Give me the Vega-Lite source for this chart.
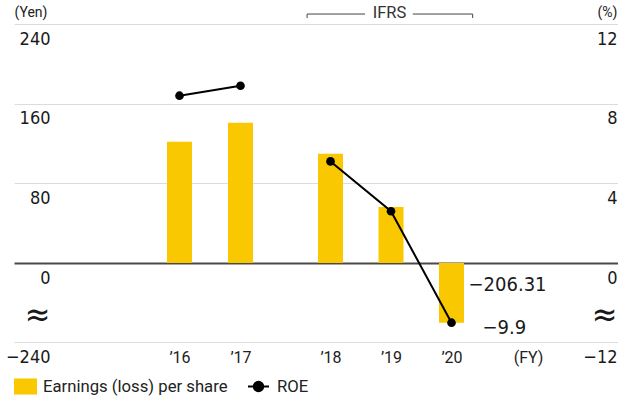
{
  "$schema": "https://vega.github.io/schema/vega-lite/v6.json",
  "width": 604,
  "height": 318,
  "autosize": {"type": "none"},
  "padding": {"left": 14, "top": 24, "right": 0, "bottom": 54},
  "background": "white",
  "config": {"view": {"stroke": null}, "font": "Roboto"},
  "datasets": {
    "fy": [
      {"year": 2016, "standard": "JGAAP", "eps": 121.8, "roe": 8.4},
      {"year": 2017, "standard": "JGAAP", "eps": 140.9, "roe": 8.9},
      {"year": 2018, "standard": "IFRS", "eps": 109.7, "roe": 5.1},
      {"year": 2019, "standard": "IFRS", "eps": 56.3, "roe": 2.6},
      {"year": 2020, "standard": "IFRS", "eps": -206.31, "roe": -9.9}
    ],
    "ifrs": [
      {"label": "IFRS", "start": 2017.74, "gapStart": 2018.57, "center": 2018.975, "gapEnd": 2019.36, "end": 2020.36}
    ]
  },
  "data": {"name": "fy"},
  "layer": [
    {
      "layer": [
        {
          "mark": {"type": "bar", "width": 25, "orient": "vertical"},
          "encoding": {
            "x": {
              "field": "year",
              "type": "quantitative",
              "scale": {"domain": [2013.29, 2016, 2017, 2018, 2020, 2022.75], "range": [0, 165.5, 226.5, 316.5, 437.5, 604], "nice": false, "zero": false},
              "axis": {
                "orient": "bottom",
                "title": null,
                "values": [2016, 2017, 2018, 2019, 2020, 2021.3],
                "format": "d",
                "labelExpr": "datum.value > 2020.5 ? '(FY)' : '\u2019' + substring(datum.label, 2)",
                "domain": false,
                "ticks": false,
                "grid": false,
                "labelPadding": 7,
                "labelFontSize": 16,
                "labelFont": "Roboto",
                "labelColor": "#222222",
                "labelFlush": false,
                "labelOverlap": false,
                "labelBaseline": "top"
              }
            },
            "y": {
              "field": "eps",
              "type": "quantitative",
              "scale": {"domain": [-240, -206.31, 0, 240], "range": [318, 298.7, 239, 0], "nice": false, "zero": false},
              "axis": {
                "orient": "left",
                "title": "(Yen)",
                "values": [-240, -130, 0, 80, 160, 240],
                "format": "d",
                "labelExpr": "datum.value == -130 ? '\u2248' : datum.label",
                "domain": false,
                "ticks": false,
                "labelPadding": -36,
                "labelAlign": "right",
                "labelBaseline": "middle",
                "labelOffset": 15,
                "labelFont": "DejaVu Sans Condensed, Liberation Sans, sans-serif",
                "labelFontSize": {"condition": {"test": "datum.value == -130", "value": 34}, "value": 18},
                "labelColor": "#1a1a1a",
                "labelFlush": false,
                "labelOverlap": false,
                "grid": true,
                "gridColor": {"condition": [{"test": "datum.value == 0", "value": "#4a4a4a"}, {"test": "datum.value == -130", "value": "rgba(0,0,0,0)"}], "value": "#dcdcdc"},
                "gridWidth": {"condition": {"test": "datum.value == 0", "value": 1.8}, "value": 1.2},
                "titleAngle": 0,
                "titleAlign": "left",
                "titleBaseline": "middle",
                "titleX": 0,
                "titleY": -12,
                "titleFont": "Roboto",
                "titleFontSize": 14,
                "titleFontWeight": "normal",
                "titleColor": "#222222"
              }
            },
            "y2": {"datum": 0},
            "fill": {
              "datum": "Earnings (loss) per share",
              "scale": {"range": ["#FAC800"]},
              "legend": {
                "orient": "none",
                "legendX": 0,
                "legendY": 351,
                "title": null,
                "padding": 0,
                "symbolType": "M-1,-0.7H1V0.7H-1Z",
                "symbolSize": 529,
                "symbolStrokeWidth": 0,
                "labelFont": "Roboto",
                "labelFontSize": 16.7,
                "labelLimit": 400,
                "labelColor": "#222222",
                "labelOffset": 6
              }
            }
          }
        },
        {
          "transform": [{"filter": "datum.year == 2020"}],
          "mark": {"type": "text", "align": "left", "baseline": "middle", "dx": 17, "dy": -38, "fontSize": 20, "font": "DejaVu Sans Condensed, Liberation Sans, sans-serif", "color": "#1a1a1a"},
          "encoding": {
            "x": {"field": "year", "type": "quantitative"},
            "y": {"field": "eps", "type": "quantitative"},
            "text": {"field": "eps", "type": "quantitative", "format": ".2f"}
          }
        },
        {
          "data": {"name": "ifrs"},
          "mark": {"type": "rule", "color": "#444444", "strokeWidth": 1},
          "encoding": {
            "x": {"field": "start", "type": "quantitative"},
            "x2": {"field": "gapStart"},
            "y": {"datum": 250, "type": "quantitative"}
          }
        },
        {
          "data": {"name": "ifrs"},
          "mark": {"type": "rule", "color": "#444444", "strokeWidth": 1},
          "encoding": {
            "x": {"field": "gapEnd", "type": "quantitative"},
            "x2": {"field": "end"},
            "y": {"datum": 250, "type": "quantitative"}
          }
        },
        {
          "data": {"name": "ifrs"},
          "mark": {"type": "rule", "color": "#444444", "strokeWidth": 1},
          "encoding": {
            "x": {"field": "start", "type": "quantitative"},
            "y": {"datum": 250, "type": "quantitative"},
            "y2": {"datum": 246}
          }
        },
        {
          "data": {"name": "ifrs"},
          "mark": {"type": "rule", "color": "#444444", "strokeWidth": 1},
          "encoding": {
            "x": {"field": "end", "type": "quantitative"},
            "y": {"datum": 250, "type": "quantitative"},
            "y2": {"datum": 246}
          }
        },
        {
          "data": {"name": "ifrs"},
          "mark": {"type": "text", "align": "center", "baseline": "middle", "dy": -1, "fontSize": 16.5, "font": "Roboto", "color": "#333333"},
          "encoding": {
            "x": {"field": "center", "type": "quantitative"},
            "y": {"datum": 250, "type": "quantitative"},
            "text": {"field": "label"}
          }
        }
      ]
    },
    {
      "layer": [
        {
          "mark": {"type": "line", "strokeWidth": 2},
          "encoding": {
            "x": {"field": "year", "type": "quantitative"},
            "y": {
              "field": "roe",
              "type": "quantitative",
              "scale": {"domain": [-12, -9.9, 0, 12], "range": [318, 298.7, 239, 0], "nice": false, "zero": false},
              "axis": {
                "orient": "right",
                "title": "(%)",
                "values": [-12, -6.2, 0, 4, 8, 12],
                "format": "d",
                "labelExpr": "datum.value == -6.2 ? '\u2248' : datum.label",
                "domain": false,
                "ticks": false,
                "grid": false,
                "labelPadding": -1,
                "labelAlign": "right",
                "labelBaseline": "middle",
                "labelOffset": 15,
                "labelFont": "DejaVu Sans Condensed, Liberation Sans, sans-serif",
                "labelFontSize": {"condition": {"test": "datum.value == -6.2", "value": 34}, "value": 18},
                "labelColor": "#1a1a1a",
                "labelFlush": false,
                "labelOverlap": false,
                "titleAngle": 0,
                "titleAlign": "right",
                "titleBaseline": "middle",
                "titleX": -1,
                "titleY": -12,
                "titleFont": "Roboto",
                "titleFontSize": 14,
                "titleFontWeight": "normal",
                "titleColor": "#222222"
              }
            },
            "detail": {"field": "standard", "type": "nominal"},
            "stroke": {
              "datum": "ROE",
              "scale": {"range": ["#000000"]},
              "legend": {
                "orient": "none",
                "legendX": 233,
                "legendY": 351,
                "title": null,
                "padding": 0,
                "symbolType": "M-1,0H1M0.45,0A0.45,0.45,0,1,1,-0.45,0A0.45,0.45,0,1,1,0.45,0",
                "symbolSize": 441,
                "symbolStrokeWidth": 2,
                "symbolFillColor": "#000000",
                "labelFont": "Roboto",
                "labelFontSize": 16.7,
                "labelColor": "#222222",
                "labelOffset": 7,
                "encode": {"symbols": {"update": {"fill": {"value": "#000000"}, "stroke": {"value": "#000000"}}}}
              }
            }
          }
        },
        {
          "mark": {"type": "point", "filled": true, "color": "#000000", "size": 75, "opacity": 1},
          "encoding": {
            "x": {"field": "year", "type": "quantitative"},
            "y": {"field": "roe", "type": "quantitative"}
          }
        },
        {
          "transform": [{"filter": "datum.year == 2020"}],
          "mark": {"type": "text", "align": "left", "baseline": "middle", "dx": 31, "dy": 5, "fontSize": 20, "font": "DejaVu Sans Condensed, Liberation Sans, sans-serif", "color": "#1a1a1a"},
          "encoding": {
            "x": {"field": "year", "type": "quantitative"},
            "y": {"field": "roe", "type": "quantitative"},
            "text": {"field": "roe", "type": "quantitative", "format": ".1f"}
          }
        }
      ]
    }
  ],
  "resolve": {"scale": {"y": "independent"}}
}
